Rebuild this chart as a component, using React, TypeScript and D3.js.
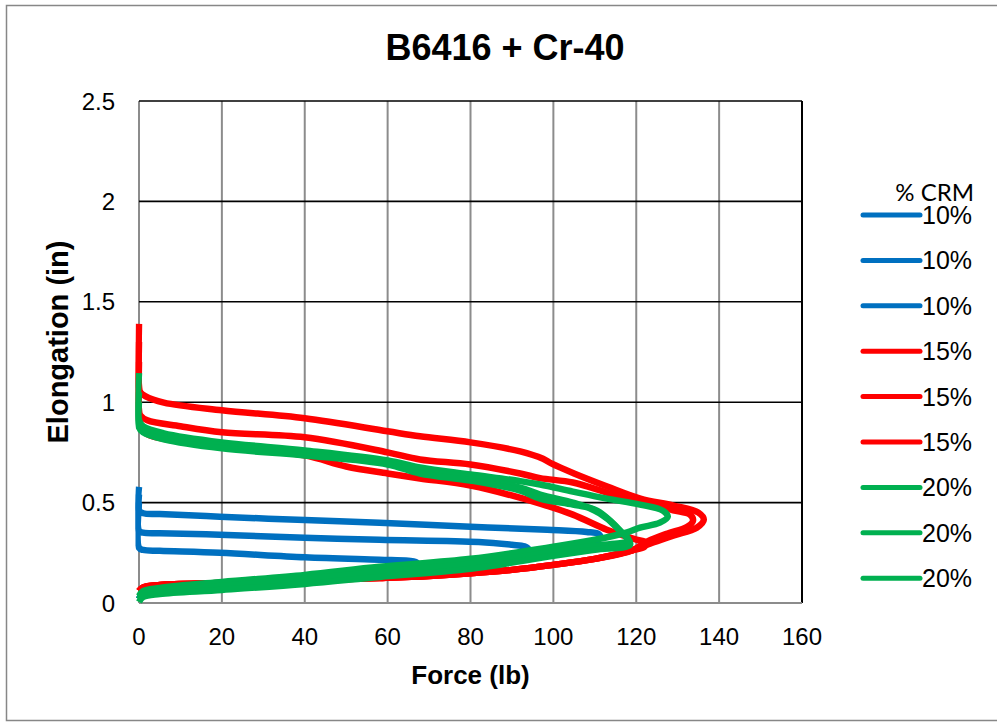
import React from "react";
import * as d3 from "d3";

type Pt = [number, number];

const title = "B6416 + Cr-40";
const xTicks = [0, 20, 40, 60, 80, 100, 120, 140, 160];
const yTicks = [0, 0.5, 1, 1.5, 2, 2.5];
const yTickLabels = ["0", "0.5", "1", "1.5", "2", "2.5"];
const legendTitle = "% CRM";
const seriesNames = ["10%", "10%", "10%", "15%", "15%", "15%", "20%", "20%", "20%"];
const seriesColors = ["#0070C0", "#0070C0", "#0070C0", "#FF0000", "#FF0000", "#FF0000", "#00B050", "#00B050", "#00B050"];

// Force (lb), Elongation (in)
const blue1: Pt[] = [[0, 0.02], [1, 0.045], [5, 0.06], [20, 0.085], [40, 0.12], [55, 0.15], [63, 0.172], [66.5, 0.19], [67, 0.203], [65, 0.211], [58, 0.216], [40, 0.228], [19.5, 0.25], [5, 0.26], [1, 0.264], [0, 0.275], [0, 0.5]];
const blue2: Pt[] = [[0, 0.02], [1, 0.045], [5, 0.06], [20, 0.085], [40, 0.12], [58, 0.155], [80, 0.195], [88, 0.222], [92, 0.247], [94, 0.268], [93, 0.282], [90, 0.29], [82, 0.304], [58, 0.315], [40, 0.325], [19.5, 0.34], [5, 0.347], [1, 0.35], [0, 0.36], [0, 0.54]];
const blue3: Pt[] = [[0, 0.02], [1, 0.045], [5, 0.06], [20, 0.085], [40, 0.12], [58, 0.155], [80, 0.195], [97, 0.245], [105, 0.275], [109, 0.3], [111.3, 0.325], [111, 0.343], [108, 0.354], [98.5, 0.365], [80, 0.38], [58, 0.4], [40, 0.413], [19.5, 0.43], [5, 0.443], [1, 0.447], [0, 0.46], [0, 0.578]];

const redA: Pt[] = [[0, 0.06], [1, 0.078], [5, 0.09], [20, 0.1], [40, 0.113], [58, 0.125], [70, 0.135], [80, 0.148], [90, 0.165], [100, 0.19], [110, 0.22], [119, 0.262], [123.3, 0.295], [128.9, 0.335], [134.6, 0.375], [136.3, 0.415], [135, 0.45], [129, 0.485], [121, 0.52], [113, 0.58], [105, 0.645], [99.5, 0.695], [97.5, 0.718], [92, 0.755], [80, 0.8], [67.8, 0.83], [60, 0.855], [40, 0.92], [20, 0.96], [6, 0.998], [1.5, 1.03], [0.3, 1.05], [0, 1.08], [0, 1.39]];
const redB: Pt[] = [[0, 0.06], [1, 0.078], [5, 0.09], [20, 0.1], [40, 0.113], [58, 0.125], [70, 0.135], [80, 0.148], [90, 0.165], [100, 0.19], [110, 0.22], [119, 0.262], [122.6, 0.305], [127.4, 0.345], [132.2, 0.378], [133.7, 0.41], [133, 0.44], [128.9, 0.462], [120.9, 0.5], [112.9, 0.55], [104.7, 0.6], [96.8, 0.622], [92, 0.645], [80, 0.69], [67.8, 0.715], [60, 0.75], [40, 0.825], [20, 0.85], [10, 0.88], [2, 0.91], [0.3, 0.935], [0, 0.96], [0, 1.3]];
const redC: Pt[] = [[0, 0.06], [1, 0.078], [5, 0.09], [20, 0.1], [40, 0.113], [58, 0.125], [70, 0.135], [80, 0.148], [90, 0.165], [100, 0.19], [110, 0.22], [119, 0.262], [122, 0.28], [122.5, 0.3], [120, 0.316], [117.8, 0.33], [112.9, 0.365], [104.7, 0.44], [96.8, 0.495], [80, 0.585], [67.8, 0.62], [60, 0.645], [50, 0.68], [40, 0.735], [20, 0.785], [8, 0.81], [2, 0.84], [0.3, 0.88], [0, 0.91], [0, 1.2]];

const greenA: Pt[] = [[0, 0.035], [1, 0.06], [5, 0.075], [20, 0.105], [40, 0.14], [58, 0.18], [80, 0.22], [100, 0.28], [110, 0.315], [117.8, 0.352], [120.9, 0.375], [125.7, 0.4], [127.6, 0.43], [126.4, 0.46], [120.9, 0.49], [112.9, 0.52], [104.7, 0.555], [96.8, 0.59], [92, 0.607], [80, 0.64], [67.8, 0.675], [60, 0.71], [40, 0.76], [20, 0.8], [6, 0.845], [1, 0.88], [0, 0.91], [0, 1.145]];
const greenB: Pt[] = [[0, 0.02], [1, 0.045], [5, 0.06], [20, 0.085], [40, 0.12], [58, 0.155], [80, 0.195], [100, 0.255], [110, 0.285], [117.8, 0.312], [116.1, 0.36], [113.7, 0.41], [110.5, 0.46], [104.7, 0.5], [96.8, 0.54], [92, 0.575], [80, 0.625], [67.8, 0.66], [60, 0.7], [40, 0.745], [20, 0.785], [6, 0.83], [1, 0.865], [0, 0.89], [0, 1.05]];
const greenC: Pt[] = [[0, 0.005], [1, 0.03], [5, 0.045], [20, 0.065], [40, 0.095], [58, 0.13], [80, 0.17], [100, 0.235], [110, 0.265], [118.5, 0.29], [118, 0.322], [116, 0.36], [113, 0.42], [109, 0.47], [104.7, 0.49], [96.8, 0.52], [92, 0.56], [80, 0.61], [67.8, 0.645], [60, 0.69], [40, 0.735], [20, 0.77], [6, 0.815], [1, 0.85], [0, 0.875], [0, 1.0]];

const seriesData: Pt[][] = [blue1, blue2, blue3, redA, redB, redC, greenA, greenB, greenC];

const W = 997;
const H = 722;
const plotL = 139;
const plotR = 802;
const plotT = 101;
const plotB = 603;

export default function App() {
  const x = d3.scaleLinear().domain([0, 160]).range([plotL, plotR]);
  const y = d3.scaleLinear().domain([0, 2.5]).range([plotB, plotT]);
  const line = d3
    .line<Pt>()
    .x((d) => x(d[0]))
    .y((d) => y(d[1]))
    .curve(d3.curveCatmullRom.alpha(0.5));

  const legendX1 = 863;
  const legendX2 = 920;
  const legendY0 = 215;
  const legendStep = 45.4;

  return (
    <svg
      width={W}
      height={H}
      style={{ position: "absolute", left: 0, top: 0, background: "#fff" }}
      fontFamily="'Liberation Sans', Arial, sans-serif"
    >
      <defs>
        <clipPath id="plotClip">
          <rect x={plotL - 3.5} y={plotT - 5} width={plotR - plotL + 8} height={plotB - plotT + 8} />
        </clipPath>
      </defs>
      <rect x={6.5} y={5.5} width={1000} height={715} fill="#fff" stroke="#878787" strokeWidth={1.5} />

      {/* vertical gridlines */}
      {xTicks.map((t) => (
        <line
          key={"vx" + t}
          x1={x(t)}
          x2={x(t)}
          y1={plotT}
          y2={plotB}
          stroke={t === 160 ? "#000" : "#8c8c8c"}
          strokeWidth={2}
        />
      ))}
      {/* horizontal gridlines */}
      {yTicks.map((t) => (
        <line
          key={"hy" + t}
          x1={plotL}
          x2={plotR}
          y1={y(t)}
          y2={y(t)}
          stroke={t === 0 ? "#8c8c8c" : "#000"}
          strokeWidth={t === 0 ? 2 : 1.6}
        />
      ))}

      {/* series */}
      <g clipPath="url(#plotClip)">
        {seriesData.map((d, i) => (
          <path
            key={"s" + i}
            d={line(d) || ""}
            fill="none"
            stroke={seriesColors[i]}
            strokeWidth={6.5}
            strokeLinejoin="round"
            strokeLinecap="butt"
          />
        ))}
      </g>

      {/* y tick labels */}
      {yTicks.map((t, i) => (
        <text key={"yl" + t} x={115} y={y(t)} dy="0.36em" textAnchor="end" fontSize={24} fill="#000">
          {yTickLabels[i]}
        </text>
      ))}
      {/* x tick labels */}
      {xTicks.map((t) => (
        <text key={"xl" + t} x={x(t)} y={645} textAnchor="middle" fontSize={24} fill="#000">
          {t}
        </text>
      ))}

      {/* title */}
      <text x={505} y={60} textAnchor="middle" fontSize={36} fontWeight="bold" fill="#000">
        {title}
      </text>
      {/* axis titles */}
      <text x={(plotL + plotR) / 2} y={684} textAnchor="middle" fontSize={26} fontWeight="bold" fill="#000">
        Force (lb)
      </text>
      <text
        transform={`translate(68, 342) rotate(-90)`}
        textAnchor="middle"
        fontSize={29}
        fontWeight="bold"
        fill="#000"
      >
        Elongation (in)
      </text>

      {/* legend */}
      <text x={974} y={201} textAnchor="end" fontSize={24} fontFamily="Lato, 'Open Sans', sans-serif" fill="#000">
        {legendTitle}
      </text>
      {seriesNames.map((n, i) => {
        const ly = legendY0 + i * legendStep;
        return (
          <g key={"lg" + i}>
            <line x1={legendX1} x2={legendX2} y1={ly} y2={ly} stroke={seriesColors[i]} strokeWidth={5} strokeLinecap="round" />
            <text x={922} y={ly} dy="0.36em" fontSize={25} fill="#000">
              {n}
            </text>
          </g>
        );
      })}
    </svg>
  );
}
